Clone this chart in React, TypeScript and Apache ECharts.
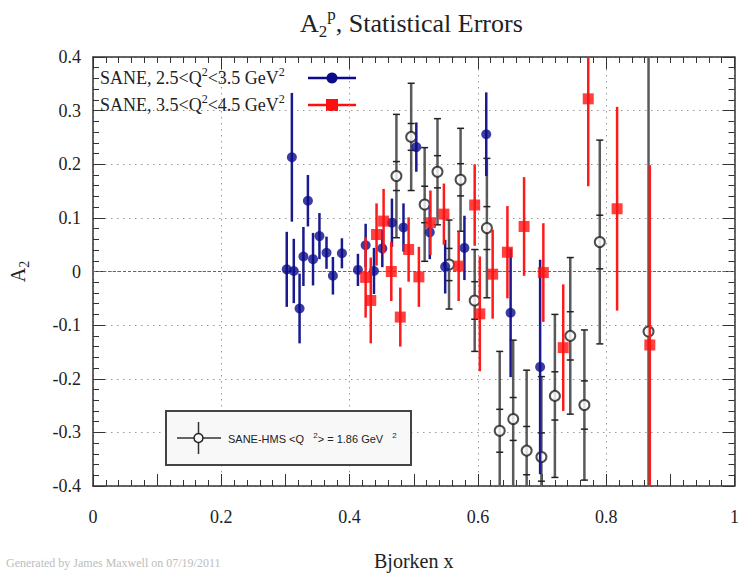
import React, { useEffect, useRef } from "react";
import * as echarts from "echarts";

// SANE 2.5<Q2<3.5 (blue)
const blueX = [0.302, 0.310, 0.313, 0.322, 0.328, 0.335, 0.343, 0.353, 0.364, 0.374, 0.388, 0.413, 0.425, 0.438, 0.451, 0.466, 0.484, 0.504, 0.525, 0.549, 0.579, 0.613, 0.651, 0.697];
const blueY = [0.004, 0.213, 0.001, -0.069, 0.028, 0.132, 0.023, 0.066, 0.035, -0.008, 0.034, 0.003, 0.049, 0.001, 0.043, 0.091, 0.082, 0.232, 0.073, 0.009, 0.044, 0.256, -0.077, -0.178];
const blueErr = [0.07, 0.12, 0.06, 0.065, 0.055, 0.048, 0.049, 0.043, 0.03, 0.035, 0.028, 0.03, 0.04, 0.043, 0.035, 0.045, 0.045, 0.046, 0.05, 0.05, 0.06, 0.078, 0.12, 0.2];

// SANE 3.5<Q2<4.5 (red)
const redX = [0.425, 0.433, 0.442, 0.453, 0.465, 0.479, 0.492, 0.508, 0.526, 0.547, 0.570, 0.595, 0.603, 0.623, 0.646, 0.672, 0.702, 0.733, 0.772, 0.817, 0.868];
const redY = [-0.011, -0.054, 0.069, 0.094, 0.0, -0.085, 0.041, -0.010, 0.091, 0.107, 0.010, 0.124, -0.079, -0.005, 0.036, 0.084, -0.002, -0.142, 0.322, 0.117, -0.137];
const redErr = [0.075, 0.08, 0.058, 0.06, 0.055, 0.055, 0.06, 0.056, 0.06, 0.057, 0.065, 0.076, 0.107, 0.083, 0.086, 0.092, 0.092, 0.118, 0.163, 0.19, 0.335];

// SANE-HMS <Q2> = 1.86 GeV2 (open circles)
const hmsX = [0.473, 0.496, 0.517, 0.537, 0.555, 0.573, 0.595, 0.614, 0.634, 0.655, 0.676, 0.699, 0.720, 0.744, 0.766, 0.790, 0.866];
const hmsY = [0.178, 0.251, 0.125, 0.186, 0.013, 0.171, -0.054, 0.081, -0.297, -0.275, -0.334, -0.346, -0.232, -0.120, -0.249, 0.055, -0.112];
const hmsErr = [0.115, 0.1, 0.106, 0.099, 0.083, 0.096, 0.095, 0.13, 0.148, 0.147, 0.15, 0.15, 0.152, 0.146, 0.14, 0.19, 0.8];
const hmsInner = [0.027, 0.025, 0.034, 0.03, 0.03, 0.03, 0.035, 0.04, 0.04, 0.04, 0.045, 0.045, 0.045, 0.045, 0.045, 0.05, 0];

const yTicks = [-0.4, -0.3, -0.2, -0.1, 0, 0.1, 0.2, 0.3, 0.4];
const xLabelStep = 0.2;

const SERIF = "'Liberation Serif', 'Times New Roman', serif";
const SANS = "'Liberation Sans', Arial, sans-serif";

function errSeries(
  xs: number[], ys: number[], es: number[], inner: number[] | null,
  color: string, width: number, cap: number, z: number
) {
  return {
    type: "custom",
    xAxisIndex: 0,
    yAxisIndex: 0,
    z,
    silent: true,
    encode: { x: 0, y: 1 },
    data: xs.map((x, i) => [x, ys[i], es[i], inner ? inner[i] : 0]),
    renderItem: (params: any, api: any) => {
      const x = api.value(0);
      const y = api.value(1);
      const e = api.value(2);
      const s = api.value(3);
      const cs = params.coordSys;
      const lo = cs.y;
      const hi = cs.y + cs.height;
      const inside = (py: number) => py >= lo - 0.5 && py <= hi + 0.5;
      const clamp = (py: number) => Math.max(lo, Math.min(hi, py));
      const t = api.coord([x, y + e]);
      const b = api.coord([x, y - e]);
      const px = t[0];
      const children: any[] = [
        {
          type: "line",
          shape: { x1: px, y1: clamp(t[1]), x2: px, y2: clamp(b[1]) },
          style: { stroke: color, lineWidth: width },
        },
      ];
      if (cap > 0) {
        const caps: number[] = [t[1], b[1]];
        if (s > 0) {
          caps.push(api.coord([x, y + s])[1]);
          caps.push(api.coord([x, y - s])[1]);
        }
        caps.forEach((cy) => {
          if (inside(cy)) {
            children.push({
              type: "line",
              shape: { x1: px - cap / 2, y1: cy, x2: px + cap / 2, y2: cy },
              style: { stroke: "#222", lineWidth: 1.5 },
            });
          }
        });
      }
      return { type: "group", children };
    },
  };
}

function fmtX(v: number) {
  const k = Math.round(v * 10);
  if (k % Math.round(xLabelStep * 10) !== 0) return "";
  if (k === 0) return "0";
  if (k === 10) return "1";
  return (k / 10).toFixed(1);
}

function fmtY(v: number) {
  const k = Math.round(v * 10);
  if (k === 0) return "0";
  return (k / 10).toFixed(1);
}

export default function App() {
  const ref = useRef<HTMLDivElement>(null);
  useEffect(() => {
    if (!ref.current) return;
    const chart = echarts.init(ref.current, null, { renderer: "svg" });
    const axisColor = "#333";
    const gridDot = { color: "#999", width: 1, type: [1.5, 4.5] as any };
    const option: any = {
      animation: false,
      backgroundColor: "#ffffff",
      grid: { left: 89, top: 57, right: 4, bottom: 85, containLabel: false },
      xAxis: [
        {
          type: "value",
          position: "bottom",
          min: 0,
          max: 1,
          interval: 0.1,
          axisLine: { show: true, onZero: false, lineStyle: { color: axisColor, width: 1.5 } },
          axisTick: { show: true, inside: true, length: 12, lineStyle: { color: axisColor, width: 1 } },
          minorTick: { show: true, splitNumber: 5, length: 6, lineStyle: { color: axisColor, width: 1 } },
          axisLabel: { formatter: fmtX, margin: 22, fontFamily: SERIF, fontSize: 18, color: "#222" },
          splitLine: { show: false },
          name: "Bjorken x",
          nameLocation: "middle",
          nameGap: 65,
          nameTextStyle: { fontFamily: SERIF, fontSize: 20, color: "#222" },
        },
        {
          type: "value",
          position: "top",
          min: 0,
          max: 1,
          interval: xLabelStep,
          axisLine: { show: true, onZero: false, lineStyle: { color: axisColor, width: 1.5 } },
          axisTick: { show: true, inside: true, length: 12, lineStyle: { color: axisColor, width: 1 } },
          minorTick: { show: true, splitNumber: 10, length: 6, lineStyle: { color: axisColor, width: 1 } },
          axisLabel: { show: false },
          splitLine: { show: true, lineStyle: gridDot },
        },
      ],
      yAxis: [
        {
          type: "value",
          position: "left",
          min: yTicks[0],
          max: yTicks[yTicks.length - 1],
          interval: 0.1,
          axisLine: { show: true, onZero: false, lineStyle: { color: axisColor, width: 1.5 } },
          axisTick: { show: true, inside: true, length: 12, lineStyle: { color: axisColor, width: 1 } },
          minorTick: { show: true, splitNumber: 5, length: 6, lineStyle: { color: axisColor, width: 1 } },
          axisLabel: { formatter: fmtY, margin: 12, fontFamily: SERIF, fontSize: 18, color: "#222" },
          splitLine: { show: true, lineStyle: gridDot },
          name: "{a|A}{s|2}",
          nameLocation: "middle",
          nameGap: 62,
          nameRotate: 90,
          nameTextStyle: {
            rich: {
              a: { fontFamily: SERIF, fontSize: 20, color: "#222", lineHeight: 26 },
              s: { fontFamily: SERIF, fontSize: 14, color: "#222", verticalAlign: "bottom", lineHeight: 16 },
            },
          },
        },
        {
          type: "value",
          position: "right",
          min: yTicks[0],
          max: yTicks[yTicks.length - 1],
          interval: 0.1,
          axisLine: { show: true, onZero: false, lineStyle: { color: axisColor, width: 1.5 } },
          axisTick: { show: true, inside: true, length: 12, lineStyle: { color: axisColor, width: 1 } },
          minorTick: { show: true, splitNumber: 5, length: 6, lineStyle: { color: axisColor, width: 1 } },
          axisLabel: { show: false },
          splitLine: { show: false },
        },
      ],
      graphic: [
        {
          type: "text",
          left: 300,
          top: 6,
          style: {
            text: "{a|A}{b|2}{c|p}{a|, Statistical Errors}",
            rich: {
              a: { fontFamily: SERIF, fontSize: 26, fill: "#222", lineHeight: 34 },
              b: { fontFamily: SERIF, fontSize: 17, fill: "#222", verticalAlign: "bottom", lineHeight: 17 },
              c: { fontFamily: SERIF, fontSize: 17, fill: "#222", verticalAlign: "top", lineHeight: 17 },
            },
          },
        },
        {
          type: "text",
          left: 100,
          top: 66,
          style: {
            text: "{a|SANE, 2.5<Q}{s|2}{a|<3.5 GeV}{s|2}",
            rich: {
              a: { fontFamily: SERIF, fontSize: 18, fill: "#222", lineHeight: 24 },
              s: { fontFamily: SERIF, fontSize: 12, fill: "#222", verticalAlign: "top", lineHeight: 12 },
            },
          },
        },
        {
          type: "text",
          left: 100,
          top: 93,
          style: {
            text: "{a|SANE, 3.5<Q}{s|2}{a|<4.5 GeV}{s|2}",
            rich: {
              a: { fontFamily: SERIF, fontSize: 18, fill: "#222", lineHeight: 24 },
              s: { fontFamily: SERIF, fontSize: 12, fill: "#222", verticalAlign: "top", lineHeight: 12 },
            },
          },
        },
        { type: "line", shape: { x1: 308, y1: 78, x2: 356, y2: 78 }, style: { stroke: "#0b0b8c", lineWidth: 2.5 } },
        { type: "circle", shape: { cx: 332, cy: 78, r: 5.5 }, style: { fill: "#0b0b8c" } },
        { type: "line", shape: { x1: 308, y1: 105, x2: 356, y2: 105 }, style: { stroke: "#ff1010", lineWidth: 2.5 } },
        { type: "rect", shape: { x: 326, y: 99, width: 12, height: 12 }, style: { fill: "#ff1010" } },
        {
          type: "rect",
          z: 100,
          shape: { x: 166, y: 411, width: 245, height: 54 },
          style: { fill: "#f8f8f8", stroke: "#444", lineWidth: 2 },
        },
        { type: "line", z: 101, shape: { x1: 177, y1: 438, x2: 221, y2: 438 }, style: { stroke: "#333", lineWidth: 1.5 } },
        { type: "line", z: 101, shape: { x1: 198.5, y1: 422, x2: 198.5, y2: 454 }, style: { stroke: "#333", lineWidth: 1.5 } },
        { type: "circle", z: 102, shape: { cx: 198.5, cy: 438, r: 4.5 }, style: { fill: "#f8f8f8", stroke: "#222", lineWidth: 1.5 } },
        {
          type: "text",
          z: 102,
          left: 228,
          top: 431,
          style: {
            text: "{a|SANE-HMS <Q   }{s|2}{a|> = 1.86 GeV   }{s|2}",
            rich: {
              a: { fontFamily: SANS, fontSize: 11, fill: "#222", lineHeight: 16 },
              s: { fontFamily: SANS, fontSize: 8, fill: "#222", verticalAlign: "top", lineHeight: 9 },
            },
          },
        },
        {
          type: "text",
          left: 6,
          top: 557,
          style: { text: "Generated by James Maxwell on 07/19/2011", fontFamily: SERIF, fontSize: 12, fill: "#bdbdbd" },
        },
      ],
      series: [
        errSeries(hmsX, hmsY, hmsErr, hmsInner, "#5a5a5a", 2.5, 7, 2),
        {
          type: "scatter",
          xAxisIndex: 0,
          yAxisIndex: 0,
          z: 3,
          symbol: "circle",
          symbolSize: 10,
          itemStyle: { color: "#ffffff", borderColor: "#222", borderWidth: 2 },
          data: hmsX.map((x, i) => [x, hmsY[i]]),
          markLine: {
            silent: true,
            symbol: "none",
            label: { show: false },
            lineStyle: { color: "#666", width: 1.2, type: [3, 2] },
            data: [{ yAxis: 0 }],
            z: 1,
          },
        },
        errSeries(blueX, blueY, blueErr, null, "#1a1a8e", 2.5, 0, 4),
        {
          type: "scatter",
          xAxisIndex: 0,
          yAxisIndex: 0,
          z: 5,
          symbol: "circle",
          symbolSize: 10,
          itemStyle: { color: "#0b0b8c" },
          data: blueX.map((x, i) => [x, blueY[i]]),
        },
        errSeries(redX, redY, redErr, null, "#ff1a1a", 2.5, 0, 6),
        {
          type: "scatter",
          xAxisIndex: 0,
          yAxisIndex: 0,
          z: 7,
          symbol: "rect",
          symbolSize: 11,
          itemStyle: { color: "#ff1010" },
          data: redX.map((x, i) => [x, redY[i]]),
        },
      ],
    };
    chart.setOption(option);
    return () => chart.dispose();
  }, []);
  return (
    <div
      ref={ref}
      style={{ position: "absolute", left: 0, top: 0, width: 742, height: 576, background: "#fff" }}
    />
  );
}
